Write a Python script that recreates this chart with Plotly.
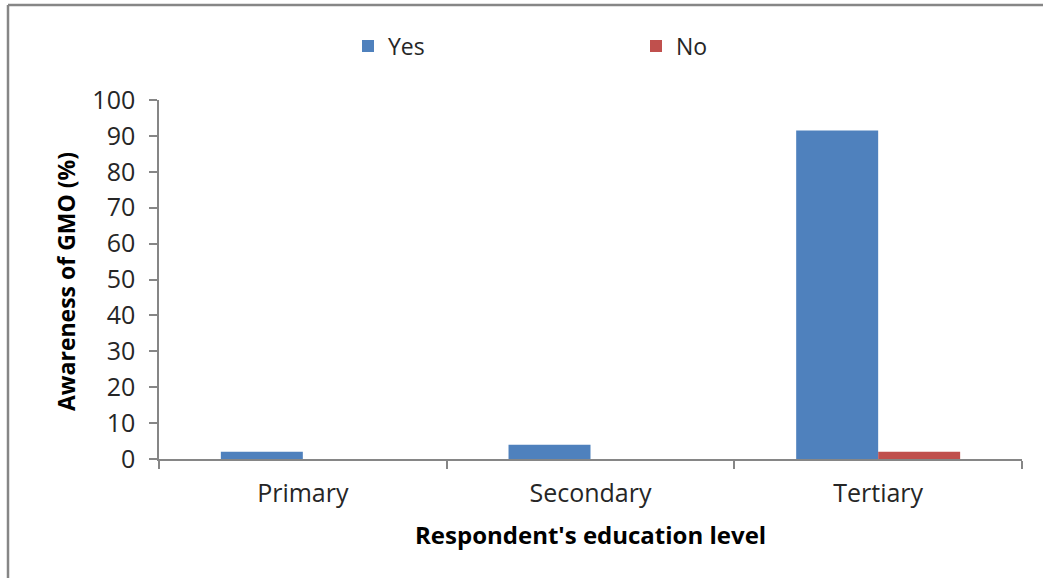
import plotly.graph_objects as go

categories = ["Primary", "Secondary", "Tertiary"]
yes_values = [2, 4, 91.5]
no_values = [0, 0, 2]
y_ticks = [0, 10, 20, 30, 40, 50, 60, 70, 80, 90, 100]

FONT = "Open Sans"
AXIS_GRAY = "#868686"
TEXT = "#262626"

# Plot area in pixels
L, R, T, B = 159, 21, 100, 119
W, H = 1043, 578
PW, PH = W - L - R, H - T - B

fig = go.Figure()
fig.add_trace(go.Bar(name="Yes", x=categories, y=yes_values,
                     marker=dict(color="#4F81BD", line=dict(width=0))))
fig.add_trace(go.Bar(name="No", x=categories, y=no_values,
                     marker=dict(color="#C0504D", line=dict(width=0))))

fig.update_layout(
    width=W, height=H,
    barmode="group", bargap=0.43, bargroupgap=0,
    paper_bgcolor="white", plot_bgcolor="white",
    margin=dict(l=L, r=R, t=T, b=B, autoexpand=False),
    font=dict(family=FONT, size=24, color=TEXT),
    legend=dict(orientation="h", x=(348 - L) / PW, xref="paper",
                y=1 - 46 / H, yref="container",
                xanchor="left", yanchor="middle",
                entrywidth=243, entrywidthmode="pixels",
                bgcolor="rgba(0,0,0,0)",
                font=dict(family=FONT, size=23, color=TEXT),
                traceorder="normal"),
    xaxis=dict(
        showline=True, linecolor=AXIS_GRAY, linewidth=1.5,
        ticks="outside", ticklen=8, tickcolor=AXIS_GRAY, tickwidth=1.5,
        tickson="boundaries", showgrid=False, zeroline=False,
        ticklabelstandoff=11,
        tickfont=dict(family=FONT, size=25, color=TEXT),
    ),
    yaxis=dict(
        range=[0, 100], tickvals=y_ticks,
        showline=True, linecolor=AXIS_GRAY, linewidth=1.5,
        ticks="outside", ticklen=8, tickcolor=AXIS_GRAY, tickwidth=1.5,
        showgrid=False, zeroline=False,
        ticklabelstandoff=9,
        tickfont=dict(family=FONT, size=25, color=TEXT),
    ),
)

# Axis titles
fig.add_annotation(text="<b>Respondent's education level</b>",
                   xref="paper", yref="paper", x=0.5, y=-(534 - (T + PH)) / PH,
                   xanchor="center", yanchor="middle", showarrow=False,
                   font=dict(family=FONT, size=24, color="black"))
fig.add_annotation(text="<b>Awareness of GMO (%)</b>",
                   xref="paper", yref="paper", x=-(L - 66) / PW, y=1 - (282 - T) / PH,
                   xanchor="center", yanchor="middle", showarrow=False, textangle=-90,
                   font=dict(family=FONT, size=23, color="black"))

# Chart frame: top and left border lines
top_y = (T + PH - 5) / PH
left_x = -(L - 8) / PW
fig.add_shape(type="line", xref="paper", yref="paper",
              x0=left_x, x1=1.05, y0=top_y, y1=top_y,
              line=dict(color=AXIS_GRAY, width=2.5))
fig.add_shape(type="line", xref="paper", yref="paper",
              x0=left_x, x1=left_x, y0=top_y, y1=-0.4,
              line=dict(color=AXIS_GRAY, width=2.5))

fig.write_html("out.html")
